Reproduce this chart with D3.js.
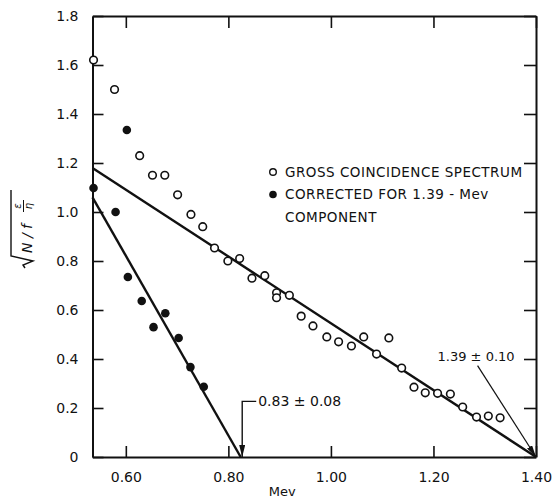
<!DOCTYPE html>
<html>
<head>
<meta charset="utf-8">
<script src="https://cdn.jsdelivr.net/npm/d3@7"></script>
<style>
  body { margin: 0; background: #fff; }
  text { font-family: "DejaVu Sans", sans-serif; fill: #111; }
  .tick text { font-size: 14px; }
</style>
</head>
<body>
<script>
// data
var grossX = [0.537, 0.578, 0.627, 0.652, 0.676, 0.701, 0.727, 0.750, 0.773, 0.799, 0.822, 0.846, 0.871,
  0.894, 0.894, 0.919, 0.942, 0.965, 0.992, 1.015, 1.040, 1.064, 1.089, 1.113, 1.138, 1.162, 1.184,
  1.208, 1.233, 1.257, 1.284, 1.307, 1.330];
var grossY = [1.62, 1.50, 1.23, 1.15, 1.15, 1.07, 0.99, 0.94, 0.853, 0.80, 0.81, 0.73, 0.74,
  0.67, 0.65, 0.66, 0.575, 0.535, 0.49, 0.47, 0.453, 0.49, 0.42, 0.486, 0.363, 0.285, 0.262,
  0.26, 0.257, 0.204, 0.163, 0.167, 0.16];
var corrX = [0.537, 0.580, 0.602, 0.604, 0.631, 0.654, 0.677, 0.703, 0.726, 0.752];
var corrY = [1.098, 1.00, 1.335, 0.735, 0.637, 0.53, 0.587, 0.486, 0.367, 0.287];

// straight-line fits (end points)
var grossFit = [[0.535, 1.18], [1.40, 0]];
var corrFit = [[0.535, 1.06], [0.824, 0]];

var xTicks = [0.60, 0.80, 1.00, 1.20, 1.40];
var yTicks = [0, 0.2, 0.4, 0.6, 0.8, 1.0, 1.2, 1.4, 1.6, 1.8];

var svgWidth = 552;
var svgHeight = 499;
var margin = { top: 16, right: 16, bottom: 42, left: 92.5 };
var width = svgWidth - margin.left - margin.right;
var height = svgHeight - margin.top - margin.bottom;

var svg = d3.select("body").append("svg")
  .attr("width", svgWidth)
  .attr("height", svgHeight);

var defs = svg.append("defs");
defs.append("marker")
  .attr("id", "arrow")
  .attr("viewBox", "0 0 12 6")
  .attr("refX", 12).attr("refY", 3)
  .attr("markerWidth", 12).attr("markerHeight", 6)
  .attr("markerUnits", "userSpaceOnUse")
  .attr("orient", "auto")
  .append("path").attr("d", "M0,0 L12,3 L0,6 Z").attr("fill", "#111");

var chartGroup = svg.append("g")
  .attr("transform", `translate(${margin.left}, ${margin.top})`);

var x = d3.scaleLinear().domain([0.535, 1.40]).range([0, width]);
var y = d3.scaleLinear().domain([0, 1.8]).range([height, 0]);

// axes, ticks pointing inward
var bottomAxis = d3.axisBottom(x).tickValues(xTicks).tickFormat(d3.format(".2f"))
  .tickSizeInner(-11).tickSizeOuter(0).tickPadding(15);
var leftAxis = d3.axisLeft(y).tickValues(yTicks)
  .tickFormat(d => d === 0 ? "0" : d3.format(".1f")(d))
  .tickSizeInner(-11).tickSizeOuter(0).tickPadding(14);
var topAxis = d3.axisTop(x).tickValues(xTicks).tickFormat("").tickSizeInner(-12).tickSizeOuter(0);
var rightAxis = d3.axisRight(y).tickValues(yTicks).tickFormat("").tickSizeInner(-12).tickSizeOuter(0);

chartGroup.append("g").attr("transform", `translate(0, ${height})`).call(bottomAxis);
chartGroup.append("g").call(leftAxis);
chartGroup.append("g").call(topAxis);
chartGroup.append("g").attr("transform", `translate(${width}, 0)`).call(rightAxis);

chartGroup.selectAll(".domain").attr("stroke", "#111").attr("stroke-width", 2);
chartGroup.selectAll(".tick line").attr("stroke", "#111").attr("stroke-width", 1.6);

// fit lines
var line = d3.line().x(d => x(d[0])).y(d => y(d[1]));
chartGroup.append("path").datum(grossFit).attr("d", line)
  .attr("fill", "none").attr("stroke", "#111").attr("stroke-width", 2.4);
chartGroup.append("path").datum(corrFit).attr("d", line)
  .attr("fill", "none").attr("stroke", "#111").attr("stroke-width", 2.4);

// points
var grossData = grossX.map((v, i) => [v, grossY[i]]);
var corrData = corrX.map((v, i) => [v, corrY[i]]);

chartGroup.selectAll(".gross")
  .data(grossData).enter().append("circle")
  .attr("class", "gross")
  .attr("cx", d => x(d[0])).attr("cy", d => y(d[1]))
  .attr("r", 3.8).attr("fill", "#fff").attr("stroke", "#111").attr("stroke-width", 1.6);

chartGroup.selectAll(".corr")
  .data(corrData).enter().append("circle")
  .attr("class", "corr")
  .attr("cx", d => x(d[0])).attr("cy", d => y(d[1]))
  .attr("r", 4.3).attr("fill", "#111");

// annotation 0.83
var ax = x(0.827);
chartGroup.append("path")
  .attr("d", `M${ax + 14},${y(0.227)} L${ax},${y(0.227)} L${ax},${y(0)}`)
  .attr("fill", "none").attr("stroke", "#111").attr("stroke-width", 1.4)
  .attr("marker-end", "url(#arrow)");
chartGroup.append("text")
  .attr("x", ax + 16).attr("y", y(0.227)).attr("dy", "0.36em")
  .style("font-size", "14px")
  .text("0.83 ± 0.08");

// annotation 1.39
chartGroup.append("text")
  .attr("x", x(1.208)).attr("y", y(0.41)).attr("dy", "0.36em")
  .style("font-size", "13px")
  .text("1.39 ± 0.10");
chartGroup.append("line")
  .attr("x1", x(1.286)).attr("y1", y(0.373))
  .attr("x2", x(1.40)).attr("y2", y(0))
  .attr("stroke", "#111").attr("stroke-width", 1.2)
  .attr("marker-end", "url(#arrow)");

// legend
var legend = svg.append("g");
legend.append("circle").attr("cx", 273).attr("cy", 172).attr("r", 3.3)
  .attr("fill", "#fff").attr("stroke", "#111").attr("stroke-width", 1.4);
legend.append("circle").attr("cx", 273).attr("cy", 194.5).attr("r", 3.8).attr("fill", "#111");
var legendLines = ["GROSS COINCIDENCE SPECTRUM", "CORRECTED FOR 1.39 - Mev", "COMPONENT"];
legend.selectAll("text").data(legendLines).enter().append("text")
  .attr("x", 285).attr("y", (d, i) => 172 + i * 22.5).attr("dy", "0.36em")
  .style("font-size", "13.5px").style("letter-spacing", "0.5px")
  .text(d => d);

// axis titles
svg.append("text")
  .attr("x", margin.left + x(0.905)).attr("y", 491).attr("dy", "0.36em")
  .attr("text-anchor", "middle")
  .style("font-size", "13px")
  .text("Mev");

var yLabel = svg.append("g").attr("transform", "translate(32, 228) rotate(-90)");
yLabel.append("path")
  .attr("d", "M-40,-7 L-37,-9 L-33,1 L-28,-21 L38,-21")
  .attr("fill", "none").attr("stroke", "#111").attr("stroke-width", 1.4);
yLabel.append("text").attr("x", -25).attr("y", 0)
  .style("font-size", "14px").style("font-style", "italic")
  .text("N / f");
yLabel.append("text").attr("x", 22).attr("y", -11).attr("text-anchor", "middle")
  .style("font-size", "10px").style("font-style", "italic").text("ε");
yLabel.append("line").attr("x1", 16).attr("x2", 28).attr("y1", -8.5).attr("y2", -8.5)
  .attr("stroke", "#111").attr("stroke-width", 1);
yLabel.append("text").attr("x", 22).attr("y", 0).attr("text-anchor", "middle")
  .style("font-size", "10px").style("font-style", "italic").text("η");
</script>
</body>
</html>
